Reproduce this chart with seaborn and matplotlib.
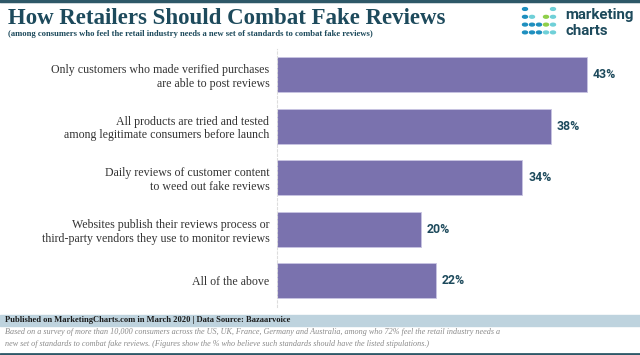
import matplotlib
matplotlib.use("Agg")
import matplotlib.pyplot as plt
import seaborn as sns

categories = [
    "Only customers who made verified purchases\nare able to post reviews",
    "All products are tried and tested\namong legitimate consumers before launch",
    "Daily reviews of customer content\nto weed out fake reviews",
    "Websites publish their reviews process or\nthird-party vendors they use to monitor reviews",
    "All of the above",
]
shares = [43, 38, 34, 20, 22]
value_labels = ["43%", "38%", "34%", "20%", "22%"]

TEAL = "#1d4a5c"
BAR = "#7a72ae"

sns.set_theme(style="white")
plt.rcParams["font.family"] = ["Liberation Serif", "DejaVu Serif"]

fig = plt.figure(figsize=(6.4, 3.55), dpi=100)
ax = fig.add_axes([277 / 640, 1 - 306.7 / 355, 1 - 277 / 640, 258 / 355])

sns.barplot(x=shares, y=categories, orient="h", color=BAR, width=0.68,
            edgecolor="#c9c4e2", linewidth=0.6, saturation=1, ax=ax)

ax.set_xlim(0, 50.3)
ax.set_ylim(4.5, -0.5)
ax.set_xticks([])
ax.set_xlabel("")
ax.set_ylabel("")
for s in ["top", "right", "bottom"]:
    ax.spines[s].set_visible(False)
ax.spines["left"].set_color("#dddddd")
ax.spines["left"].set_linestyle((0, (2, 2)))
ax.spines["left"].set_linewidth(0.8)
ax.tick_params(axis="y", length=0, pad=5.5, labelsize=8.6, labelcolor="#333333")
ax.set_yticks([0.5, 1.5, 2.5, 3.5], minor=True)
ax.tick_params(axis="y", which="minor", length=3, color="#dddddd", width=0.8)

for i, (v, t) in enumerate(zip(shares, value_labels)):
    ax.text(v + 0.8, i, t, va="center", ha="left", fontsize=8.8,
            fontweight="bold", color=TEAL, family="Roboto")

# header
fig.add_artist(plt.Line2D([0, 1], [1 - 1 / 355, 1 - 1 / 355], color="#2e5868", lw=2.5))
fig.text(8 / 640, 1 - 18 / 355, "How Retailers Should Combat Fake Reviews",
         fontsize=16.5, fontweight="bold", color=TEAL, va="center", ha="left")
fig.text(8 / 640, 1 - 34 / 355,
         "(among consumers who feel the retail industry needs a new set of standards to combat fake reviews)",
         fontsize=6.2, fontweight="bold", color=TEAL, va="center", ha="left")

# logo
blue, cyan, green = "#1e8fbf", "#6fd0d8", "#8fcf4a"
dots = [
    [blue, None, None, None, cyan],
    [blue, cyan, None, green, cyan],
    [blue, blue, blue, green, cyan],
    [blue, blue, blue, cyan, cyan],
]
for r, row in enumerate(dots):
    for c, col in enumerate(row):
        if col:
            fig.add_artist(matplotlib.patches.Circle(
                ((525 + 7 * c) / 640, 1 - (9 + 7.8 * r) / 355), 2.5 / 640,
                transform=fig.transFigure, color=col))
fig.text(565 / 640, 1 - 15 / 355, "marketing", fontsize=10.8, fontweight="bold",
         color=TEAL, va="center", ha="left", family="Roboto")
fig.text(565 / 640, 1 - 31 / 355, "charts", fontsize=10.8, fontweight="bold",
         color=TEAL, va="center", ha="left", family="Roboto")

# footer
fig.add_artist(matplotlib.patches.Rectangle((0, 1 - 326 / 355), 1, 11 / 355,
               transform=fig.transFigure, color="#bed3de", zorder=0))
fig.text(5 / 640, 1 - 320.5 / 355,
         "Published on MarketingCharts.com in March 2020 | Data Source: Bazaarvoice",
         fontsize=6.1, fontweight="bold", color="#1a1a1a", va="center", ha="left")
fig.text(5 / 640, 1 - 332.5 / 355,
         "Based on a survey of more than 10,000 consumers across the US, UK, France, Germany and Australia, among who 72% feel the retail industry needs a",
         fontsize=5.85, style="italic", color="#8a8a8a", va="center", ha="left")
fig.text(5 / 640, 1 - 344 / 355,
         "new set of standards to combat fake reviews. (Figures show the % who believe such standards should have the listed stipulations.)",
         fontsize=5.85, style="italic", color="#8a8a8a", va="center", ha="left")
fig.add_artist(plt.Line2D([0, 1], [1 - 353.5 / 355, 1 - 353.5 / 355], color="#2e5868", lw=2))

fig.savefig("out.png", dpi=100)
